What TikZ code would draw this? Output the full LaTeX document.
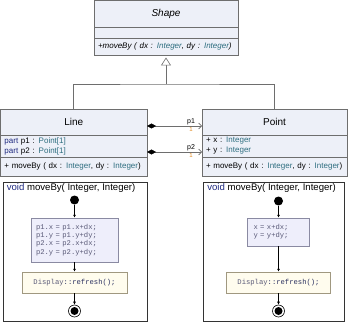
\documentclass[tikz,border=0pt]{standalone}
\usepackage{fontspec}
\setmainfont{Liberation Sans}
\setmonofont{Liberation Mono}
\usepackage{tikz}
\usetikzlibrary{arrows.meta,positioning,calc}
\definecolor{umlline}{HTML}{6E6E6E}
\definecolor{umlfill}{HTML}{EDF0F8}
\definecolor{typeteal}{HTML}{2E6E80}
\definecolor{kwnavy}{HTML}{1F2A80}
\definecolor{codegrey}{HTML}{5A5A78}
\definecolor{codefill}{HTML}{EEEEFB}
\definecolor{codeline}{HTML}{8A8AA2}
\definecolor{callfill}{HTML}{FFFCEE}
\definecolor{callline}{HTML}{A09880}
\definecolor{callnavy}{HTML}{2A3060}
\definecolor{framegrey}{HTML}{333333}
\definecolor{multorange}{HTML}{E08A20}
\tikzset{
  >={Latex[length=3pt,width=3pt]},
  % klassdiagram
  clshead/.style={draw=umlline,fill=umlfill,line width=0.6pt,inner sep=0pt,
                  outer sep=0pt,font=\fontsize{10}{12}\selectfont},
  clsbody/.style={draw=umlline,fill=umlfill,line width=0.6pt,inner xsep=4pt,
                  inner ysep=0pt,outer sep=0pt,align=left,
                  font=\fontsize{8}{10}\selectfont},
  gen/.style={draw=umlline,line width=0.6pt},
  genarrow/.style={-{Triangle[length=8pt,width=10pt,fill=white]},draw=umlline,
                   line width=0.6pt,shorten >=2.5pt},
  comp/.style={{Diamond[length=9pt,width=5pt,color=black]}-{Straight Barb[length=3pt,width=6pt]},
               draw=umlline,line width=0.6pt},
  role/.style={font=\fontsize{7}{8}\selectfont,inner sep=1pt},
  mult/.style={font=\fontsize{6}{7}\selectfont,text=multorange,inner sep=1pt},
  % aktivitet
  actframe/.style={draw=framegrey,line width=0.9pt,fill=white,inner sep=0pt},
  acttitle/.style={font=\fontsize{9.6}{12}\selectfont,inner xsep=4pt,inner ysep=2pt},
  initnode/.style={circle,fill=black,inner sep=0pt,minimum size=9pt},
  finalnode/.style={circle,draw=black,line width=0.6pt,inner sep=0pt,minimum size=12pt,
                    path picture={\fill[black] (path picture bounding box.center) circle (4pt);}},
  codebox/.style={draw=codeline,fill=codefill,line width=0.5pt,align=left,
                  inner ysep=0pt,text=codegrey,font=\ttfamily\fontsize{7.2}{8.2}\selectfont},
  callbox/.style={draw=callline,fill=callfill,line width=0.5pt,inner sep=0pt,
                  text=callnavy,font=\ttfamily\fontsize{7.2}{8.2}\selectfont},
  flow/.style={->,draw=black,line width=0.6pt},
}
\newcommand{\ty}[1]{\textcolor{typeteal}{#1}}
\begin{document}
\begin{tikzpicture}[x=1pt,y=-1pt]
\useasboundingbox (0,0) rectangle (350,323);
  % Shape
  \node[clshead,minimum width=144pt,minimum height=26.5pt] (shapeH) at (166,13.75) {\itshape Shape};
  \node[clshead,minimum width=144pt,minimum height=11pt,below=0pt of shapeH] (shapeA) {};
  \node[clsbody,text width=136pt,minimum height=17pt,below=0pt of shapeA] (shapeO)
    {\itshape +moveBy ( dx : \ty{Integer}, dy : \ty{Integer})};
  % Line
  \node[clshead,minimum width=146.5pt,minimum height=26pt] (lineH) at (73.75,122) {Line};
  \node[clsbody,text width=138.5pt,minimum height=22pt,below=0pt of lineH] (lineA)
    {\textcolor{kwnavy}{part} p1 : \ty{Point[1]}\\\textcolor{kwnavy}{part} p2 : \ty{Point[1]}};
  \node[clsbody,text width=138.5pt,minimum height=19pt,below=0pt of lineA] (lineO)
    {+ moveBy ( dx : \ty{Integer}, dy : \ty{Integer})};
  % Point
  \node[clshead,minimum width=145pt,minimum height=26pt] (pointH) at (274.5,122) {Point};
  \node[clsbody,text width=137pt,minimum height=22pt,below=0pt of pointH] (pointA)
    {+ x : \ty{Integer}\\+ y : \ty{Integer}};
  \node[clsbody,text width=137pt,minimum height=19pt,below=0pt of pointA] (pointO)
    {+ moveBy ( dx : \ty{Integer}, dy : \ty{Integer})};
  % arv och komposition
  \coordinate (joint) at (166,84);
  \draw[gen] (lineH.north) |- (joint) -| (pointH.north);
  \draw[genarrow] (joint) -- (shapeO.south);
  \draw[comp] ($(lineH.east)+(0,4)$) -- node[role,above,pos=0.8] {p1}
    node[mult,below,pos=0.8] {1} ($(pointH.west)+(0,4)$);
  \draw[comp] ($(lineA.east)+(0,6)$) -- node[role,above,pos=0.8] {p2}
    node[mult,below,pos=0.8] {1} ($(pointA.west)+(0,6)$);
  % Line::moveBy
  \node[actframe,minimum width=144pt,minimum height=139pt] (actL) at (75,251.5) {};
  \node[acttitle,anchor=north west] (titleL) at (actL.north west)
    {\textcolor{kwnavy}{void} moveBy( Integer, Integer)};
  \node[initnode] (initL) at (74.5,200) {};
  \node[codebox,text width=77pt,inner xsep=5pt,minimum height=44pt] (codeL) at (74.5,240)
    {p1.x = p1.x+dx;\\p1.y = p1.y+dy;\\p2.x = p2.x+dx;\\p2.y = p2.y+dy;};
  \node[callbox,minimum width=105pt,minimum height=21pt] (callL) at (74.5,282.5)
    {\textcolor{codegrey}{Display}::refresh();};
  \node[finalnode] (finalL) at (74.5,311) {};
  \draw[flow] (initL) -- (codeL);
  \draw[flow] (codeL) -- (callL);
  \draw[flow] (callL) -- (finalL);
  % Point::moveBy
  \node[actframe,minimum width=141pt,minimum height=139pt] (actR) at (274,251.5) {};
  \node[acttitle,anchor=north west] (titleR) at (actR.north west)
    {\textcolor{kwnavy}{void} moveBy( Integer, Integer)};
  \node[initnode] (initR) at (278.5,201) {};
  \node[codebox,text width=50pt,inner xsep=6pt,minimum height=28pt] (codeR) at (278.5,232)
    {x = x+dx;\\y = y+dy;};
  \node[callbox,minimum width=104pt,minimum height=21pt] (callR) at (278.5,282.5)
    {\textcolor{codegrey}{Display}::refresh();};
  \node[finalnode] (finalR) at (278.5,311) {};
  \draw[flow] (initR) -- (codeR);
  \draw[flow] (codeR) -- (callR);
  \draw[flow] (callR) -- (finalR);
\end{tikzpicture}
\end{document}
